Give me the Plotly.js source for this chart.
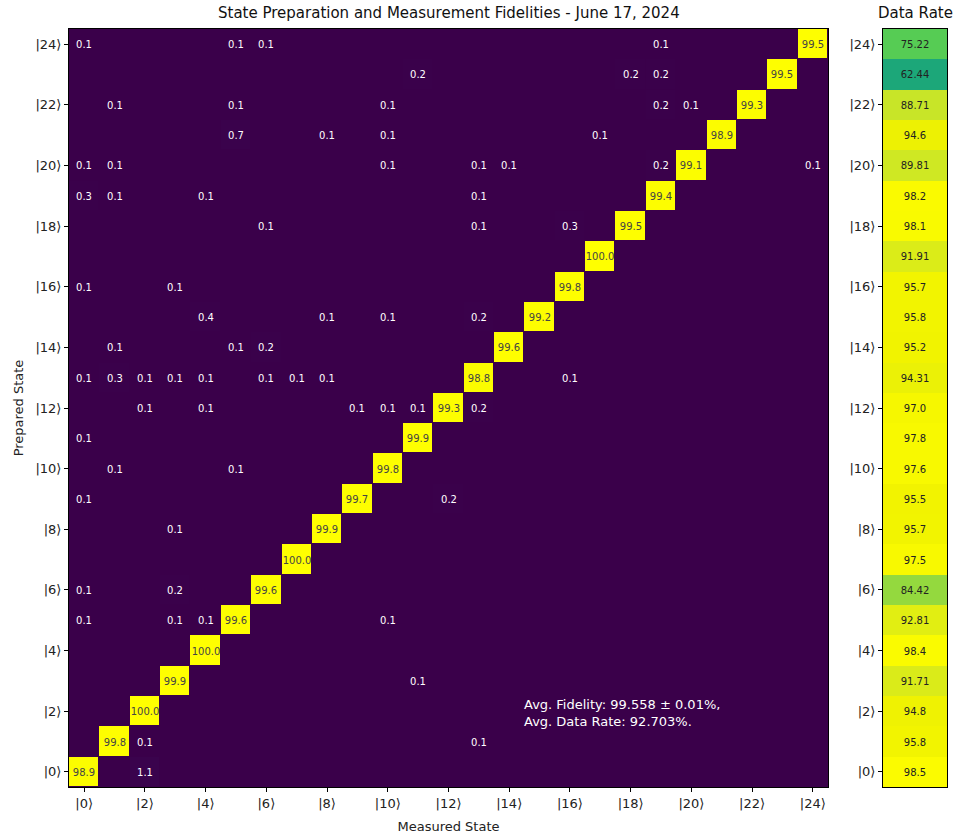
<!DOCTYPE html>
<html><head><meta charset="utf-8">
<script src="https://cdn.plot.ly/plotly-3.0.1.min.js"></script>
<style>html,body{margin:0;padding:0;background:#fff}</style>
</head><body><div id="chart" style="width:955px;height:837px"></div>
<script>
// ---- data ----
const stateIdx = [0,1,2,3,4,5,6,7,8,9,10,11,12,13,14,15,16,17,18,19,20,21,22,23,24];
const tickVals = [0,2,4,6,8,10,12,14,16,18,20,22,24];
const tickText = ['|0⟩','|2⟩','|4⟩','|6⟩','|8⟩','|10⟩','|12⟩','|14⟩','|16⟩','|18⟩','|20⟩','|22⟩','|24⟩'];
// diagonal fidelity, prepared state 0..24
const diagFidelity = [98.9,99.8,100.0,99.9,100.0,99.6,99.6,100.0,99.9,99.7,99.8,99.9,99.3,98.8,99.6,99.2,99.8,100.0,99.5,99.4,99.1,98.9,99.3,99.5,99.5];
// off-diagonal entries: [prepared, measured, percent]
const offDiag = [
  [0,2,1.1],
  [1,2,0.1],[1,13,0.1],
  [3,11,0.1],
  [5,0,0.1],[5,3,0.1],[5,4,0.1],[5,10,0.1],
  [6,0,0.1],[6,3,0.2],
  [8,3,0.1],
  [9,0,0.1],[9,12,0.2],
  [10,1,0.1],[10,5,0.1],
  [11,0,0.1],
  [12,2,0.1],[12,4,0.1],[12,9,0.1],[12,10,0.1],[12,11,0.1],[12,13,0.2],
  [13,0,0.1],[13,1,0.3],[13,2,0.1],[13,3,0.1],[13,4,0.1],[13,6,0.1],[13,7,0.1],[13,8,0.1],[13,16,0.1],
  [14,1,0.1],[14,5,0.1],[14,6,0.2],
  [15,4,0.4],[15,8,0.1],[15,10,0.1],[15,13,0.2],
  [16,0,0.1],[16,3,0.1],
  [18,6,0.1],[18,13,0.1],[18,16,0.3],
  [19,0,0.3],[19,1,0.1],[19,4,0.1],[19,13,0.1],
  [20,0,0.1],[20,1,0.1],[20,10,0.1],[20,13,0.1],[20,14,0.1],[20,19,0.2],[20,24,0.1],
  [21,5,0.7],[21,8,0.1],[21,10,0.1],[21,17,0.1],
  [22,1,0.1],[22,5,0.1],[22,10,0.1],[22,19,0.2],[22,20,0.1],
  [23,11,0.2],[23,18,0.2],[23,19,0.2],
  [24,0,0.1],[24,5,0.1],[24,6,0.1],[24,19,0.1]
];
// data rate per prepared state 0..24
const dataRate = [98.5,95.8,94.8,91.71,98.4,92.81,84.42,97.5,95.7,95.5,97.6,97.8,97.0,94.31,95.2,95.8,95.7,91.91,98.1,98.2,89.81,94.6,88.71,62.44,75.22];
const mainTitle = 'State Preparation and Measurement Fidelities - June 17, 2024';
const statsText = 'Avg. Fidelity: 99.558 ± 0.01%,<br>Avg. Data Rate: 92.703%.';

// ---- build matrix ----
const z = stateIdx.map(r => stateIdx.map(c => 0));
const txt = stateIdx.map(r => stateIdx.map(c => ''));
stateIdx.forEach(i => { z[i][i] = diagFidelity[i]; txt[i][i] = diagFidelity[i].toFixed(1); });
offDiag.forEach(([r,c,v]) => { z[r][c] = v; txt[r][c] = v.toFixed(1); });
const rateZ = dataRate.map(v => [v]);
const rateTxt = dataRate.map(v => [Number(v.toFixed(1)) === v ? v.toFixed(1) : v.toFixed(2)]);

const cscale = [
  [0,'#3a004a'],[0.25,'#3b4a8c'],[0.5,'#1f8f8c'],[0.62,'#1aa67a'],
  [0.75,'#55cc55'],[0.84,'#8ed840'],[0.88,'#c4e42c'],[0.92,'#dcec18'],
  [0.95,'#f0f200'],[1,'#ffff00']
];
const F = 'DejaVu Sans, sans-serif';

const traces = [
  {type:'heatmap', x: stateIdx, y: stateIdx, z: z, text: txt, texttemplate:'%{text}',
   textfont:{family:F, size:10}, colorscale: cscale, zmin:0, zmax:100, showscale:false,
   xgap:1, ygap:1, xaxis:'x', yaxis:'y', hoverinfo:'skip'},
  {type:'heatmap', x:[0], y: stateIdx, z: rateZ, text: rateTxt, texttemplate:'%{text}',
   textfont:{family:F, size:10, color:'#222'}, colorscale: cscale, zmin:0, zmax:100, showscale:false,
   xaxis:'x2', yaxis:'y2', hoverinfo:'skip'}
];

const axCommon = {showline:true, mirror:true, linecolor:'#000', linewidth:1, ticks:'outside',
  ticklen:4, tickcolor:'#000', showgrid:false, zeroline:false, tickfont:{family:F, size:13, color:'#222'}};

const layout = {
  width:955, height:837, margin:{l:0,r:0,t:0,b:0}, paper_bgcolor:'#fff', plot_bgcolor:'#3a004a',
  font:{family:F},
  xaxis: Object.assign({}, axCommon, {domain:[69/955, 828/955], range:[-0.5,24.5], tickvals:tickVals, ticktext:tickText,
    title:{text:'Measured State', font:{family:F, size:13, color:'#222'}, standoff:12}, anchor:'y'}),
  yaxis: Object.assign({}, axCommon, {domain:[50/837, 808/837], range:[-0.5,24.5], tickvals:tickVals, ticktext:tickText,
    title:{text:'Prepared State', font:{family:F, size:13, color:'#222'}, standoff:8}, anchor:'x'}),
  xaxis2: Object.assign({}, axCommon, {domain:[883/955, 947/955], range:[-0.5,0.5], showticklabels:false, ticks:'', anchor:'y2'}),
  yaxis2: Object.assign({}, axCommon, {domain:[50/837, 808/837], range:[-0.5,24.5], tickvals:tickVals, ticktext:tickText, anchor:'x2'}),
  annotations: [
    {xref:'paper', yref:'paper', x:448.5/955, y:(837-13)/837, text:mainTitle, showarrow:false,
     xanchor:'center', yanchor:'middle', font:{family:F, size:15, color:'#111'}},
    {xref:'paper', yref:'paper', x:915/955, y:(837-13)/837, text:'Data Rate', showarrow:false,
     xanchor:'center', yanchor:'middle', font:{family:F, size:15, color:'#111'}},
    {xref:'paper', yref:'paper', x:522/955, y:(837-713)/837, text:statsText, showarrow:false, align:'left',
     xanchor:'left', yanchor:'middle', font:{family:F, size:13, color:'#fff'}}
  ]
};

Plotly.newPlot('chart', traces, layout, {displayModeBar:false, staticPlot:true});
</script>
</body></html>
